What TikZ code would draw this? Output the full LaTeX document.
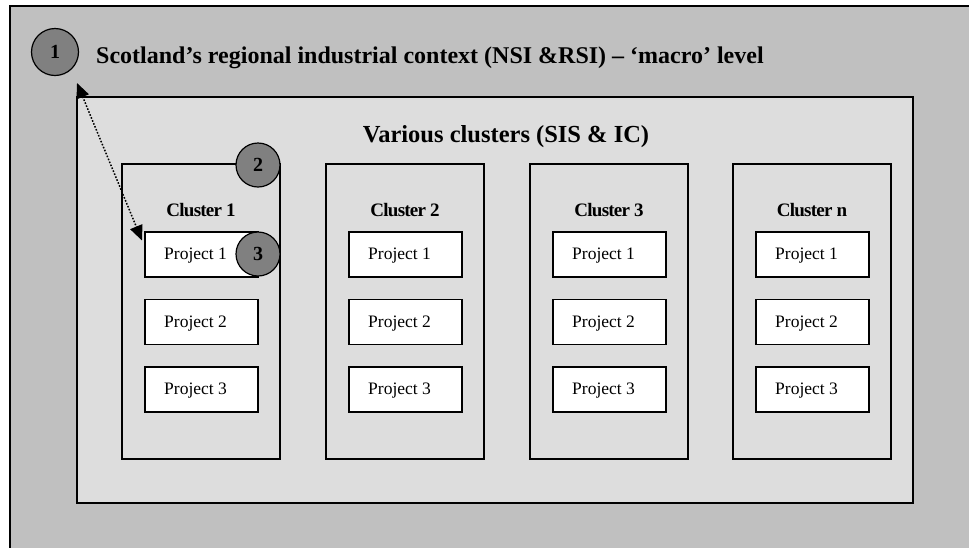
\documentclass[tikz,border=0pt]{standalone}
\usepackage{fontspec}
\setmainfont{Liberation Serif}
\usetikzlibrary{arrows.meta,calc}
\definecolor{regiongray}{HTML}{C0C0C0}
\definecolor{clustergray}{HTML}{DDDDDD}
\definecolor{markgray}{HTML}{808080}
\begin{document}
\begin{tikzpicture}[x=1pt,y=-1pt,
  frame/.style={draw=black, inner sep=0pt, outer sep=0pt, anchor=north west},
  region/.style={frame, fill=regiongray, line width=1.6pt},
  level/.style={frame, fill=clustergray, line width=1.6pt},
  clusterbox/.style={frame, line width=1.2pt},
  projectbox/.style={frame, fill=white, line width=1.5pt, minimum width=113pt, minimum height=45pt},
  projtext/.style={anchor=base west, inner sep=0pt, font=\fontsize{17.5}{20}\selectfont},
  clustertitle/.style={anchor=base, inner sep=0pt, font=\bfseries\fontsize{19}{22}\selectfont\addfontfeatures{LetterSpace=-4}},
  marker/.style={circle, draw=black, fill=markgray, line width=1.2pt, minimum size=45pt, inner sep=0pt, font=\bfseries\fontsize{20}{24}\selectfont},
  link/.style={dash pattern=on 1.6pt off 1.6pt, line width=1.5pt, {Triangle[length=15pt,width=13pt]}-{Triangle[length=15pt,width=13pt]}}
]
\useasboundingbox (0,0) rectangle (969,547);
\fill[white] (0,0) rectangle (969,547);

% macro level: the whole region
\node[region, minimum width=1000pt, minimum height=600pt] (region) at (10,6) {};
\node[anchor=base west, inner sep=0pt, font=\bfseries\fontsize{24}{28}\selectfont] (regiontitle) at (96,63)
  {Scotland’s regional industrial context (NSI \&RSI) – ‘macro’ level};

% cluster level
\node[level, minimum width=836pt, minimum height=406pt] (clusters) at (77,97) {};
\node[anchor=base, inner sep=0pt, font=\bfseries\fontsize{24.5}{28}\selectfont] (clusterstitle) at (506,142.5)
  {Various clusters (SIS \& IC)};

% the individual clusters with their projects
\foreach \cx/\nm/\lab in {122/c1/1, 326/c2/2, 530/c3/3, 733/cn/n}{
  \node[clusterbox, minimum width=158pt, minimum height=295pt] (\nm) at (\cx,164) {};
  \node[clustertitle] (\nm-title) at (\cx+79,216) {Cluster \lab};
  \foreach \k/\py in {1/232, 2/299.5, 3/367}{
    \node[projectbox] (\nm-p\k) at (\cx+23,\py) {};
    \node[projtext] (\nm-p\k-text) at ([xshift=19pt,yshift=-5pt]\nm-p\k.west) {Project \k};
  }
}

% numbered markers
\node[marker, minimum size=47pt] (m1) at (55,52) {1};
\node[marker, minimum size=44pt] (m2) at (258,165) {2};
\node[marker, minimum size=44pt] (m3) at (258,254) {3};

% link between the macro level and a single project
\coordinate (linkA) at ($(m1)+(22,31)$);
\coordinate (linkB) at ($(c1-p1.west)+(-3,-14)$);
\draw[link] (linkA) -- (linkB);
\end{tikzpicture}
\end{document}
